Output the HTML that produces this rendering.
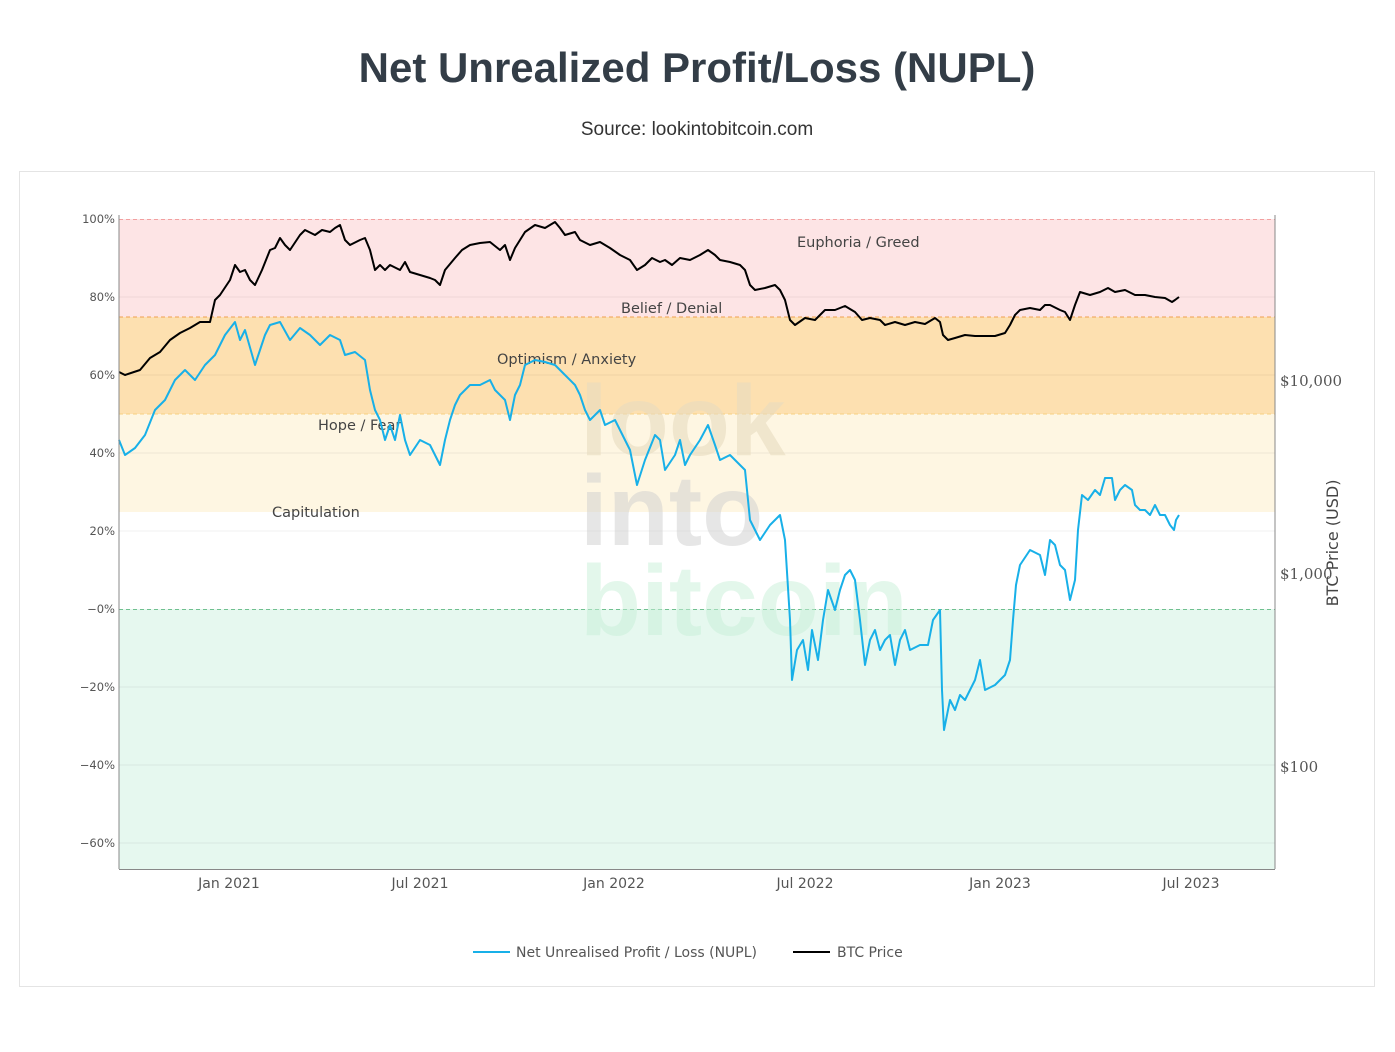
<!DOCTYPE html>
<html><head><meta charset="utf-8"><style>
body{margin:0;background:#fff;width:1395px;height:1047px;overflow:hidden;font-family:"Liberation Sans",sans-serif}
</style></head><body>
<svg width="1395" height="1047" xmlns="http://www.w3.org/2000/svg" font-family="Liberation Sans, sans-serif">
<text x="697" y="82" text-anchor="middle" font-size="42" font-weight="bold" fill="#333d47">Net Unrealized Profit/Loss (NUPL)</text>
<text x="697" y="135" text-anchor="middle" font-size="19" fill="#333">Source: lookintobitcoin.com</text>
<rect x="19.5" y="171.5" width="1355" height="815" fill="#fff" stroke="#e4e4e4"/>
<rect x="119" y="219" width="1156" height="98" fill="#fde4e5"/>
<rect x="119" y="317" width="1156" height="97" fill="#fde0b0"/>
<rect x="119" y="414" width="1156" height="98" fill="#fef6e2"/>
<rect x="119" y="609" width="1156" height="260" fill="#e6f8ef"/>
<g stroke="#000" stroke-opacity="0.06">
<line x1="119" x2="1275" y1="297" y2="297"/><line x1="119" x2="1275" y1="375" y2="375"/><line x1="119" x2="1275" y1="453" y2="453"/><line x1="119" x2="1275" y1="531" y2="531"/><line x1="119" x2="1275" y1="687" y2="687"/><line x1="119" x2="1275" y1="765" y2="765"/><line x1="119" x2="1275" y1="843" y2="843"/>
</g>
<g stroke-dasharray="4,3" stroke-width="1">
<line x1="119" x2="1275" y1="219.5" y2="219.5" stroke="#f2a0a0"/>
<line x1="119" x2="1275" y1="317" y2="317" stroke="#f0a050"/>
<line x1="119" x2="1275" y1="414" y2="414" stroke="#f8d080"/>
<line x1="119" x2="1275" y1="609.5" y2="609.5" stroke="#70c090"/>
</g>
<g font-size="100" font-weight="bold">
<text x="580" y="455" fill="#e8dcc0" opacity="0.6">look</text>
<text x="580" y="545" fill="#cfcfcf" opacity="0.5">into</text>
<text x="580" y="635" fill="#c8f0d8" opacity="0.5">bitcoin</text>
</g>
<g font-size="14.5" fill="#444" font-family="DejaVu Sans, sans-serif">
<text x="797" y="247">Euphoria / Greed</text>
<text x="621" y="313">Belief / Denial</text>
<text x="497" y="364">Optimism / Anxiety</text>
<text x="318" y="430">Hope / Fear</text>
<text x="272" y="517">Capitulation</text>
</g>
<polyline fill="none" stroke="#000" stroke-width="2" stroke-linejoin="round" points="119,372 125,375 140,370 150,358 160,352 170,340 180,333 190,328 200,322 210,322 215,300 220,295 230,280 235,265 240,272 245,270 250,280 255,285 262,270 270,250 275,248 280,238 285,245 290,250 300,235 305,230 315,235 322,230 330,232 335,228 340,225 345,240 350,245 360,240 365,238 370,250 375,270 380,265 385,270 390,265 400,270 405,262 410,272 420,275 430,278 435,280 440,285 445,270 455,258 462,250 470,245 480,243 490,242 500,250 505,245 510,260 515,248 520,240 525,232 535,225 545,228 555,222 560,228 565,235 575,232 580,240 590,245 600,242 610,248 620,255 630,260 637,270 645,265 652,258 660,262 665,260 672,265 680,258 690,260 700,255 708,250 715,255 720,260 730,262 740,265 745,270 750,285 755,290 765,288 775,285 780,290 785,300 790,320 795,325 805,318 815,320 820,315 825,310 835,310 845,306 855,312 862,320 870,318 880,320 885,325 895,322 905,325 915,322 925,324 935,318 940,322 943,335 948,340 955,338 965,335 975,336 985,336 995,336 1005,333 1010,325 1015,315 1020,310 1030,308 1040,310 1045,305 1050,305 1060,310 1065,312 1070,320 1075,305 1080,292 1090,295 1100,292 1108,288 1115,292 1125,290 1135,295 1145,295 1155,297 1165,298 1172,302 1175,300 1179,297"/>
<polyline fill="none" stroke="#18b0e8" stroke-width="2" stroke-linejoin="round" points="119,440 125,455 135,448 145,435 155,410 165,400 175,380 185,370 195,380 205,365 215,355 225,335 235,322 240,340 245,330 255,365 260,350 265,335 270,325 280,322 290,340 300,328 310,335 320,345 330,335 340,340 345,355 355,352 365,360 370,390 375,410 380,420 385,440 390,425 395,440 400,415 405,440 410,455 420,440 430,445 440,465 445,440 450,420 455,405 460,395 470,385 480,385 490,380 495,390 505,400 510,420 515,395 520,385 525,365 535,360 545,362 555,365 565,375 575,385 580,395 585,410 590,420 600,410 605,425 615,420 625,440 630,450 637,485 645,460 655,435 660,440 665,470 675,455 680,440 685,465 690,455 700,440 708,425 715,445 720,460 730,455 740,465 745,470 750,520 755,530 760,540 770,525 775,520 780,515 785,540 790,620 792,680 797,650 803,640 808,670 812,630 818,660 823,620 828,590 835,610 840,590 845,575 850,570 855,580 860,620 865,665 870,640 875,630 880,650 885,640 890,635 895,665 900,640 905,630 910,650 920,645 928,645 933,620 940,610 942,690 944,730 950,700 955,710 960,695 965,700 975,680 980,660 985,690 995,685 1005,675 1010,660 1013,620 1016,585 1020,565 1030,550 1040,555 1045,575 1050,540 1055,545 1060,565 1065,570 1070,600 1075,580 1078,530 1082,495 1088,500 1095,490 1100,495 1105,478 1112,478 1115,500 1120,490 1125,485 1132,490 1135,505 1140,510 1145,510 1150,515 1155,505 1160,515 1165,515 1170,525 1174,530 1176,520 1179,515"/>
<line x1="119" y1="215" x2="119" y2="869" stroke="#888"/>
<line x1="1275" y1="215" x2="1275" y2="869" stroke="#888"/>
<line x1="119" y1="869.5" x2="1275" y2="869.5" stroke="#888"/>
<g font-size="11.5" fill="#555" text-anchor="end" font-family="DejaVu Sans, sans-serif">
<text x="115" y="223">100%</text><text x="115" y="301">80%</text><text x="115" y="379">60%</text><text x="115" y="457">40%</text><text x="115" y="535">20%</text><text x="115" y="613">−0%</text><text x="115" y="691">−20%</text><text x="115" y="769">−40%</text><text x="115" y="847">−60%</text>
</g>
<g font-size="15" fill="#555" font-family="DejaVu Serif, serif">
<text x="1280" y="386">$10,000</text><text x="1280" y="579">$1,000</text><text x="1280" y="772">$100</text>
</g>
<text transform="translate(1338,543) rotate(-90)" text-anchor="middle" font-size="16" fill="#444" font-family="DejaVu Sans, sans-serif">BTC Price (USD)</text>
<g font-size="14" fill="#555" text-anchor="middle" font-family="DejaVu Sans, sans-serif">
<text x="229" y="888">Jan 2021</text><text x="420" y="888">Jul 2021</text><text x="614" y="888">Jan 2022</text><text x="805" y="888">Jul 2022</text><text x="1000" y="888">Jan 2023</text><text x="1191" y="888">Jul 2023</text>
</g>
<line x1="473" y1="952" x2="510" y2="952" stroke="#18b0e8" stroke-width="2"/>
<text x="516" y="957" font-size="14" fill="#555" font-family="DejaVu Sans, sans-serif">Net Unrealised Profit / Loss (NUPL)</text>
<line x1="793" y1="952" x2="830" y2="952" stroke="#000" stroke-width="2"/>
<text x="837" y="957" font-size="14" fill="#555" font-family="DejaVu Sans, sans-serif">BTC Price</text>
</svg>
</body></html>
